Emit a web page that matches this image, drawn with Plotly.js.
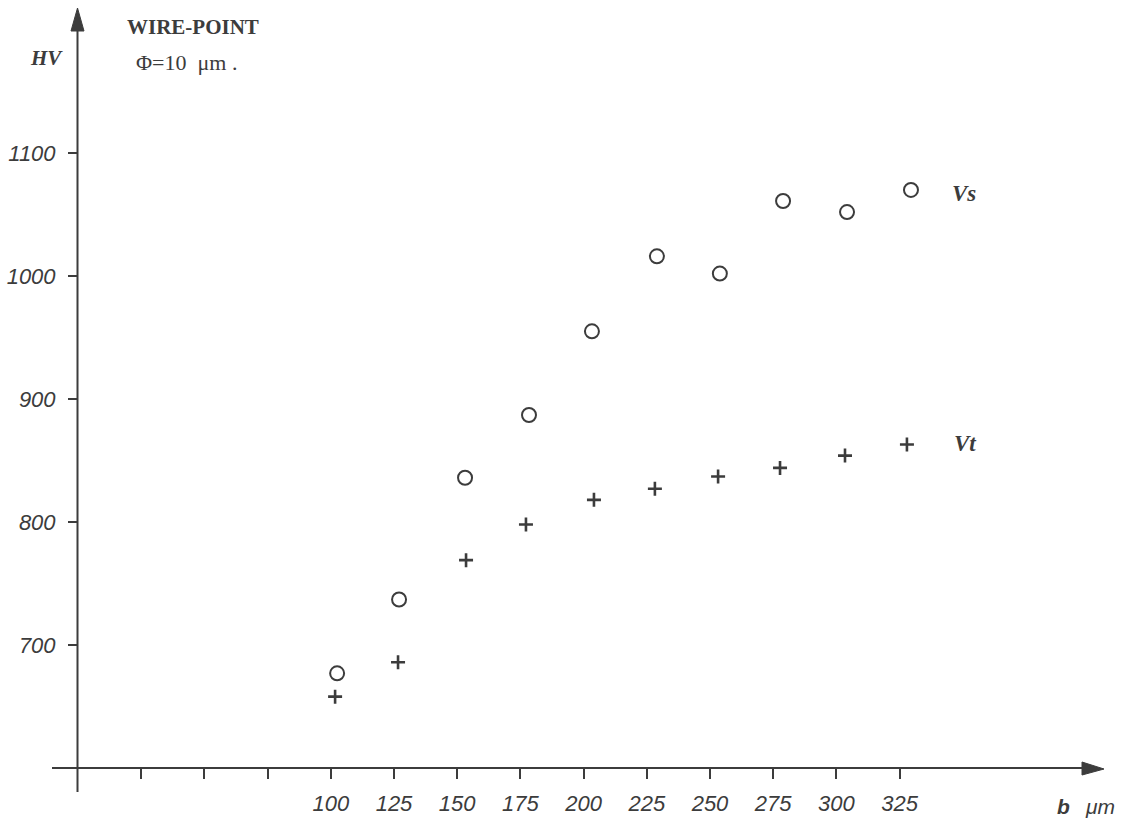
<!DOCTYPE html>
<html>
<head>
<meta charset="utf-8">
<script src="https://cdn.plot.ly/plotly-3.0.1.min.js"></script>
<style>html,body{margin:0;padding:0;background:#fff;}#chart{width:1128px;height:824px;}</style>
</head>
<body>
<div id="chart"></div>
<script>
// Data
const vsX = [102.5, 127.0, 153.1, 178.4, 203.3, 229.0, 253.9, 278.9, 304.2, 329.5];
const vsY = [677, 737, 836, 887, 955, 1016, 1002, 1061, 1052, 1070];
const vtX = [101.7, 126.6, 153.5, 177.2, 204.1, 228.2, 253.2, 277.7, 303.4, 327.9];
const vtY = [658, 686, 769, 798, 818, 827, 837, 844, 854, 863];
const xTickVals = [25, 50, 75, 100, 125, 150, 175, 200, 225, 250, 275, 300, 325];
const xTickText = ['', '', '', '100', '125', '150', '175', '200', '225', '250', '275', '300', '325'];
const yTickVals = [700, 800, 900, 1000, 1100];
const yTickText = ['700', '800', '900', '1000', '1100'];

const ink = '#3c3c3c';
const W = 1128, H = 824;
const L = 78, R = 1100, T = 5, B = 768;
const px = v => (v - L) / (R - L);
const py = v => (B - v) / (B - T);

const traces = [
  {x: vsX, y: vsY, mode: 'markers', type: 'scatter', name: 'Vs',
   marker: {symbol: 'circle-open', size: 14, color: ink, line: {width: 2, color: ink}}},
  {x: vtX, y: vtY, mode: 'markers', type: 'scatter', name: 'Vt',
   marker: {symbol: 'cross-thin', size: 10, color: ink, line: {width: 2.6, color: ink}}}
];

const tickFont = {family: 'Liberation Sans, Arial, sans-serif', size: 22, color: ink, style: 'italic'};

const layout = {
  width: W, height: H,
  margin: {l: L, r: W - R, t: T, b: H - B, pad: 0},
  paper_bgcolor: '#fff', plot_bgcolor: '#fff',
  showlegend: false,
  xaxis: {range: [0, (R - L) / 2.528], showgrid: false, zeroline: false, showline: false,
    tickmode: 'array', tickvals: xTickVals, ticktext: xTickText.map(t => t ? '<i>' + t + '</i>' : ''),
    ticks: 'outside', ticklen: 10, tickwidth: 2, tickcolor: ink, tickfont: tickFont, ticklabelstandoff: 6},
  yaxis: {range: [600, 600 + (B - T) / 1.23], showgrid: false, zeroline: false, showline: false,
    tickmode: 'array', tickvals: yTickVals, ticktext: yTickText.map(t => '<i>' + t + '</i>'),
    ticks: 'outside', ticklen: 9, tickwidth: 2, tickcolor: ink, tickfont: tickFont, ticklabelstandoff: 8},
  shapes: [
    {type: 'line', xref: 'paper', yref: 'paper', x0: px(52), x1: px(1088), y0: py(768), y1: py(768),
     line: {color: ink, width: 2}},
    {type: 'path', xref: 'paper', yref: 'paper', fillcolor: ink, line: {color: ink, width: 1},
     path: `M ${px(1082)} ${py(762)} L ${px(1104)} ${py(769)} L ${px(1082)} ${py(775)} Z`},
    {type: 'line', xref: 'paper', yref: 'paper', x0: px(77.5), x1: px(77.5), y0: py(792), y1: py(28),
     line: {color: ink, width: 2}},
    {type: 'path', xref: 'paper', yref: 'paper', fillcolor: ink, line: {color: ink, width: 1},
     path: `M ${px(71)} ${py(31)} L ${px(77.5)} ${py(8)} L ${px(84)} ${py(31)} Z`}
  ],
  annotations: [
    {xref: 'paper', yref: 'paper', x: px(125), y: py(27), text: 'WIRE-POINT', showarrow: false,
     font: {family: 'Liberation Serif, Times New Roman, serif', size: 21, color: ink, weight: 'bold'}, xanchor: 'left', yanchor: 'middle'},
    {xref: 'paper', yref: 'paper', x: px(134), y: py(62), text: 'Φ=10  μm .', showarrow: false,
     font: {family: 'Liberation Serif, Times New Roman, serif', size: 22, color: ink}, xanchor: 'left', yanchor: 'middle'},
    {xref: 'paper', yref: 'paper', x: px(46), y: py(58), text: '<b><i>HV</i></b>', showarrow: false,
     font: {family: 'Liberation Serif, Times New Roman, serif', size: 21, color: ink}, xanchor: 'center', yanchor: 'middle'},
    {xref: 'paper', yref: 'paper', x: px(950), y: py(193), text: '<b><i>Vs</i></b>', showarrow: false,
     font: {family: 'Liberation Serif, Times New Roman, serif', size: 23, color: ink}, xanchor: 'left', yanchor: 'middle'},
    {xref: 'paper', yref: 'paper', x: px(952), y: py(443), text: '<b><i>Vt</i></b>', showarrow: false,
     font: {family: 'Liberation Serif, Times New Roman, serif', size: 23, color: ink}, xanchor: 'left', yanchor: 'middle'},
    {xref: 'paper', yref: 'paper', x: px(1055), y: py(806), text: '<b><i>b</i></b>', showarrow: false,
     font: {family: 'Liberation Sans, Arial, sans-serif', size: 21, color: ink}, xanchor: 'left', yanchor: 'middle'},
    {xref: 'paper', yref: 'paper', x: px(1083), y: py(806), text: '<i>μm</i>', showarrow: false,
     font: {family: 'Liberation Sans, Arial, sans-serif', size: 21, color: ink}, xanchor: 'left', yanchor: 'middle'}
  ]
};

Plotly.newPlot('chart', traces, layout, {staticPlot: true, displayModeBar: false});
</script>
</body>
</html>
